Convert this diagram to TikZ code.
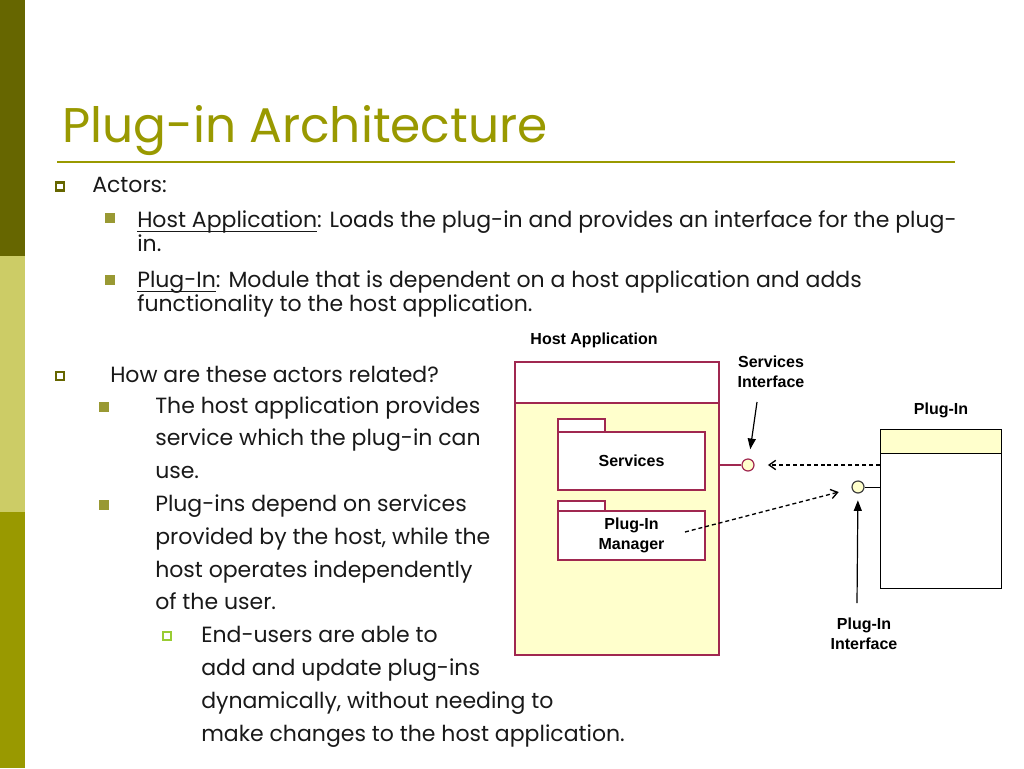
\documentclass[tikz,border=0pt]{standalone}
\usepackage{fontspec}
\setmainfont{Poppins}
\newfontfamily\diagfont{Liberation Sans}
\usetikzlibrary{positioning}
\usetikzlibrary{arrows.meta}

\newsavebox{\ulbox}
\newcommand{\ulword}[1]{\sbox{\ulbox}{#1}\rlap{\rule[-3.6pt]{\wd\ulbox}{0.9pt}}\usebox{\ulbox}}

\definecolor{barDark}{RGB}{102,102,0}
\definecolor{barLight}{RGB}{204,204,102}
\definecolor{barMid}{RGB}{153,153,0}
\definecolor{titleOlive}{RGB}{153,153,0}
\definecolor{dotOlive}{RGB}{153,153,51}
\definecolor{dotGreen}{RGB}{153,204,51}
\definecolor{bodyText}{RGB}{25,25,25}
\definecolor{hostBorder}{RGB}{160,40,80}
\definecolor{hostFill}{RGB}{255,255,204}

\tikzset{
  bulletA/.style={draw=barDark, line width=1.9pt, minimum size=6pt, inner sep=0pt},
  bulletB/.style={fill=dotOlive, minimum size=7.5pt, inner sep=0pt},
  bulletC/.style={draw=dotGreen, line width=1.5pt, minimum size=5.6pt, inner sep=0pt},
  slidetext/.style={anchor=base west, inner sep=0pt, align=left, text=bodyText},
  hostbox/.style={draw=hostBorder, line width=1.5pt, inner sep=0pt, outer sep=0pt},
  plugbox/.style={draw=black, line width=0.75pt, inner sep=0pt, outer sep=0pt},
  iface/.style={circle, line width=0.9pt, fill=hostFill, minimum size=9pt, inner sep=0pt},
  pointer/.style={black, line width=0.9pt, -{Triangle[length=8pt,width=6pt]}},
  depend/.style={black, line width=1pt, dash pattern=on 3pt off 2.2pt, -{Straight Barb[length=5pt,width=7pt]}}
}

\begin{document}
\begin{tikzpicture}[x=0.75pt, y=-0.75pt]
  \useasboundingbox (0,0) rectangle (1024,768);
  \fill[white] (0,0) rectangle (1024,768);
  % side bar
  \fill[barDark] (0,0) rectangle (25,256);
  \fill[barLight] (0,256) rectangle (25,512);
  \fill[barMid] (0,512) rectangle (25,768);

  % title
  \node[anchor=base west, inner sep=0pt, text=titleOlive, font=\fontsize{36.5}{44}\selectfont] (title) at (62,142) {Plug-in Architecture};
  \draw[titleOlive, line width=1.5pt] (57,162) -- (955,162);

  % bullets (base anchor sits on the last line)
  \begin{scope}[font=\fontsize{16.5}{18}\selectfont]
    \node[bulletA] (b1) at (60,186.5) {};
    \node[slidetext] (actors) at (92,192) {Actors:};
    \node[bulletB] (b2) at (110,218) {};
    \node[slidetext, font=\fontsize{16.5}{18}\selectfont] (hostdef) at (137,251) {\ulword{Host Application}: Loads the plug-in and provides an interface for the plug-\\in.};
    \node[bulletB] (b3) at (110,279.5) {};
    \node[slidetext, font=\fontsize{16.5}{18}\selectfont] (plugdef) at (137,311) {\ulword{Plug-In}: Module that is dependent on a host application and adds\\functionality to the host application.};

    \node[bulletA] (b4) at (60,376) {};
    \node[slidetext] (related) at (110,382) {How are these actors related?};
    \node[bulletB] (b5) at (103.5,406.5) {};
    \node[slidetext, font=\fontsize{16.5}{24.6}\selectfont] (provides) at (155,478.6) {The host application provides\\service which the plug-in can\\use.};
    \node[bulletB] (b6) at (103.5,505) {};
    \node[slidetext, font=\fontsize{16.5}{24.6}\selectfont] (depends) at (155,609.8) {Plug-ins depend on services\\provided by the host, while the\\host operates independently\\of the user.};
    \node[bulletC] (b7) at (167,636) {};
    \node[slidetext, font=\fontsize{16.5}{24.6}\selectfont] (enduser) at (201,741) {End-users are able to\\add and update plug-ins\\dynamically, without needing to\\make changes to the host application.};
  \end{scope}

  % diagram
  \begin{scope}[font=\diagfont\bfseries\fontsize{12}{15}\selectfont]
    \node (hostlbl) at (594,340) {Host Application};
    \node[hostbox, fill=white, minimum width=153pt, minimum height=30.75pt] (hosthead) at (617,382.5) {};
    \node[hostbox, fill=hostFill, minimum width=153pt, minimum height=189pt, below=0pt of hosthead] (hostbody) {};

    \node[hostbox, fill=white, minimum width=110.25pt, minimum height=43.5pt] (svcbody) at (631.5,461) {Services};
    \node[hostbox, fill=white, minimum width=35.25pt, minimum height=9.75pt, anchor=south west] (svctab) at (svcbody.north west) {};
    \node[hostbox, fill=white, minimum width=110.25pt, minimum height=36.75pt, align=center] (pimbody) at (631.5,535.5) {Plug-In\\Manager};
    \node[hostbox, fill=white, minimum width=35.25pt, minimum height=7.5pt, anchor=south west] (pimtab) at (pimbody.north west) {};

    \node[iface, draw=hostBorder] (svcif) at (748,465) {};
    \draw[hostBorder, line width=1.5pt] (svcif) -- (svcif -| hostbody.east);
    \node[align=center] (svclbl) at (771,372) {Services\\Interface};

    \node (pluglbl) at (941,410) {Plug-In};
    \node[plugbox, fill=hostFill, minimum width=90.75pt, minimum height=18pt] (plughead) at (940.5,441) {};
    \node[plugbox, fill=white, minimum width=90.75pt, minimum height=101.25pt, below=0pt of plughead] (plugbody) {};

    \node[iface, draw=black!75] (plugif) at (858,487) {};
    \draw[black, line width=0.75pt] (plugif) -- (plugif -| plugbody.west);
    \node[align=center] (pifl) at (864,634) {Plug-In\\Interface};

    \coordinate (svcptr) at (757,402);
    \draw[pointer, shorten >=7pt] (svcptr) -- (svcif);
    \coordinate (plugptr) at (857,603);
    \draw[pointer, shorten >=5pt] (plugptr) -- (plugif);

    \draw[depend, shorten >=10pt] (plugbody.west |- svcif) -- (svcif);
    \coordinate (pimdep) at (685,532);
    \draw[depend, shorten >=10pt] (pimdep) -- (plugif);
  \end{scope}
\end{tikzpicture}
\end{document}
